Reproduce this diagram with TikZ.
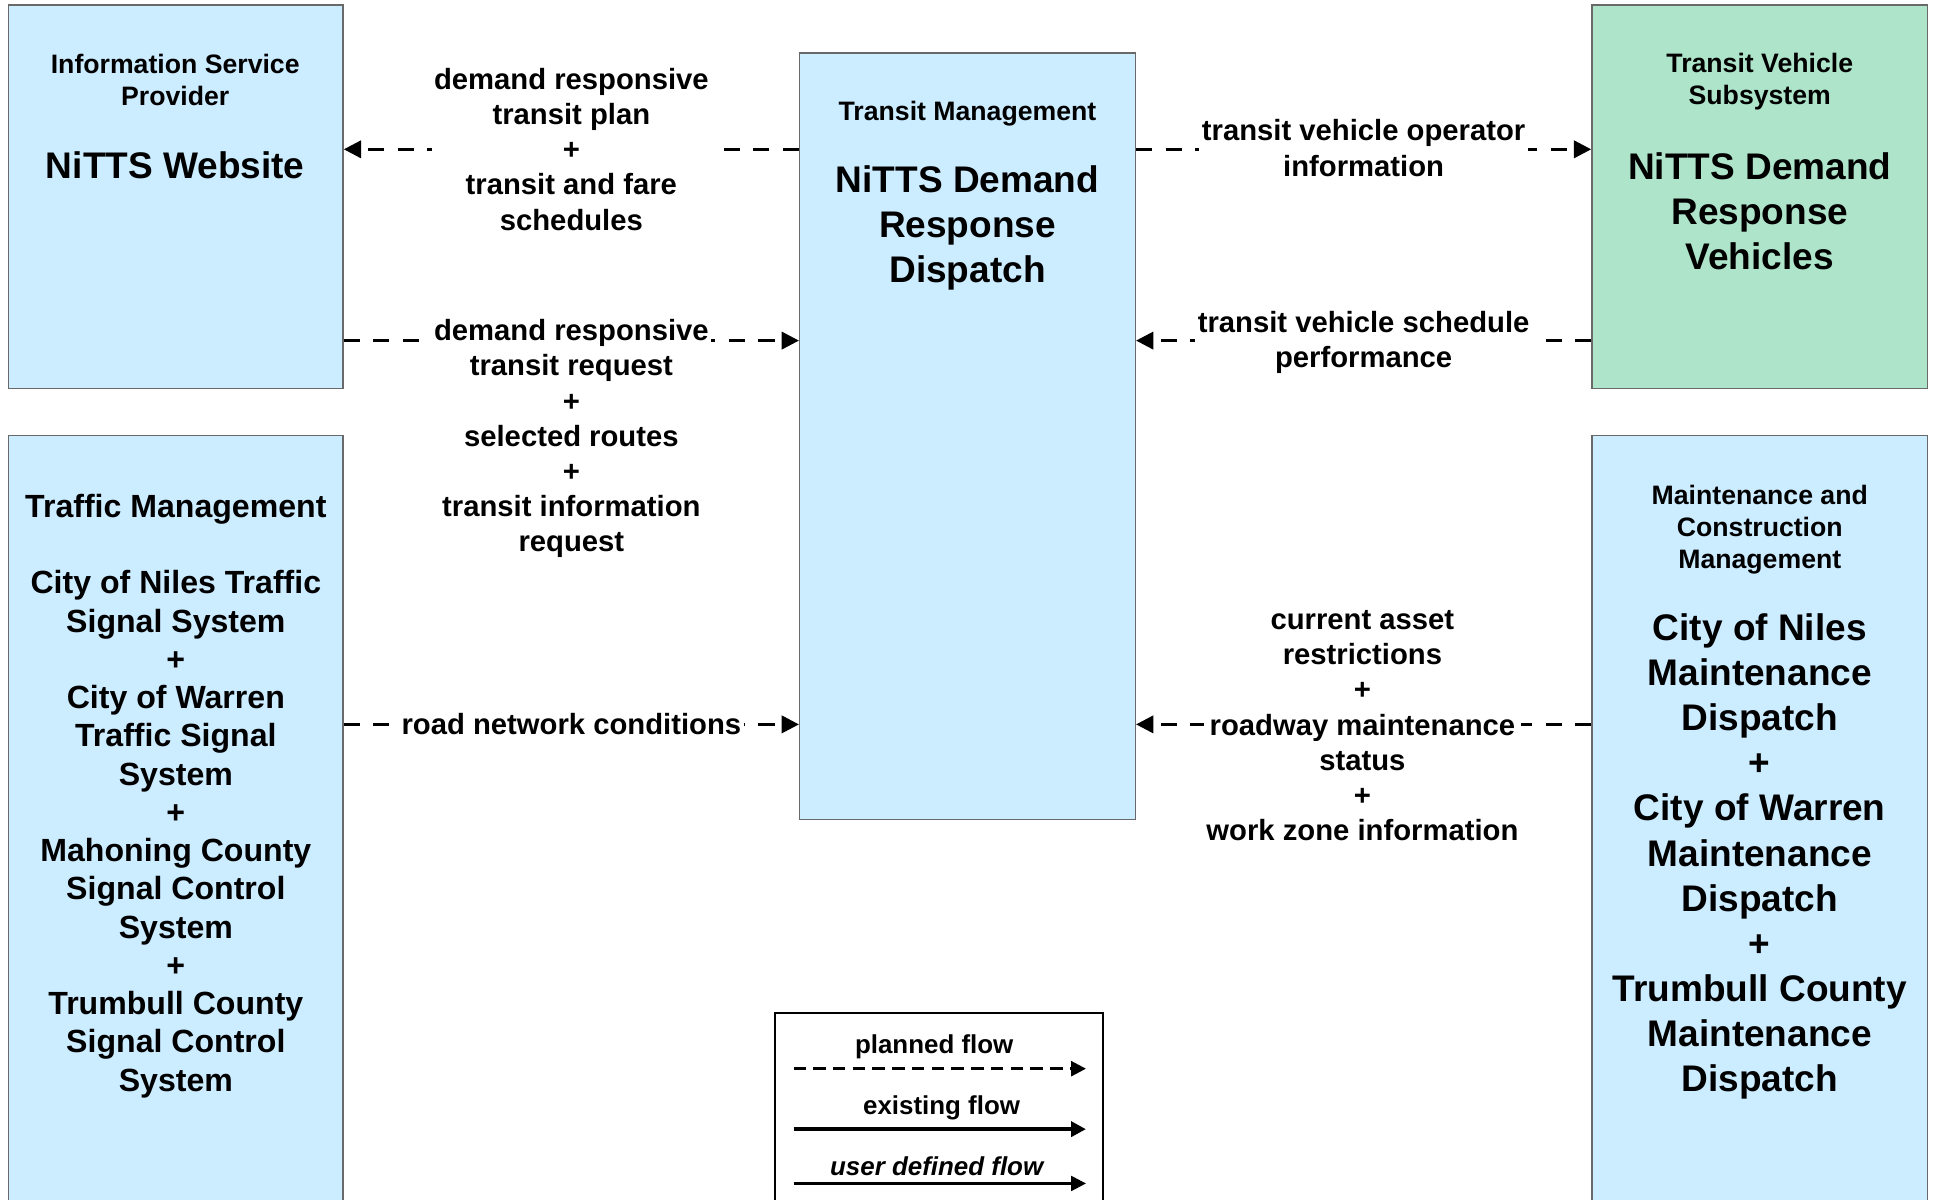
\documentclass[tikz,border=0pt]{standalone}
\usepackage{fontspec}
\setmainfont{Liberation Sans}
\usetikzlibrary{arrows.meta,fit}
\definecolor{boxblue}{RGB}{204,236,255}
\definecolor{boxgreen}{RGB}{173,228,202}
\definecolor{boxedge}{RGB}{105,105,105}
\begin{document}
\begin{tikzpicture}[x=0.5pt,y=-0.5pt,
  box/.style={draw=boxedge, line width=0.6pt, inner sep=0pt},
  bluebox/.style={box, fill=boxblue},
  greenbox/.style={box, fill=boxgreen},
  cls/.style={font=\fontsize{10.8}{13}\selectfont\bfseries, align=center, inner sep=0pt},
  bigname/.style={font=\fontsize{15}{18.25}\selectfont\bfseries, align=center, inner sep=0pt},
  tname/.style={font=\fontsize{13}{15.5}\selectfont\bfseries, align=center, inner sep=0pt},
  flowlabel/.style={font=\fontsize{11.85}{14.25}\selectfont\bfseries, align=center, fill=white, inner sep=1pt},
  flow/.style={line width=1.2pt, dash pattern=on 6.5pt off 5.5pt, -{Triangle[length=7pt,width=7pt]}},
  legtext/.style={font=\fontsize{10.5}{12.6}\selectfont\bfseries, inner sep=0pt},
  legplanned/.style={line width=1.1pt, dash pattern=on 5pt off 3pt, -{Triangle[length=6pt,width=6pt]}},
  legexisting/.style={line width=1.6pt, -{Triangle[length=6pt,width=6pt]}},
  leguser/.style={line width=1pt, -{Triangle[length=6pt,width=6pt]}}]
\useasboundingbox (0,0) rectangle (1568,972.4);
\fill[white] (0,0) rectangle (1568,972.4);
\clip (0,0) rectangle (1568,972.4);

% boxes
\node[bluebox, fit={(7,4)(278,315)}] (isp) {};
\node[bluebox, fit={(648,43)(920,664)}] (tm) {};
\node[greenbox, fit={(1290,4)(1562,315)}] (tvs) {};
\node[bluebox, fit={(7,353)(278,990)}] (traf) {};
\node[bluebox, fit={(1290,353)(1562,990)}] (maint) {};

% box texts
\node[cls] (ispc) at (142,65) {Information Service\\Provider};
\node[bigname] (ispn) at (142,134) {NiTTS Website};
\node[cls] (tmc) at (784,92) {Transit Management};
\node[bigname] (tmn) at (784,185) {NiTTS Demand\\Response\\Dispatch};
\node[cls] (tvsc) at (1426,66) {Transit Vehicle\\Subsystem};
\node[bigname] (tvsn) at (1426,171) {NiTTS Demand\\Response\\Vehicles};
\node[tname] (trafn) at (142.5,645) {Traffic Management\\[15.5pt]City of Niles Traffic\\Signal System\\+\\City of Warren\\Traffic Signal\\System\\+\\Mahoning County\\Signal Control\\System\\+\\Trumbull County\\Signal Control\\System};
\node[cls] (maintc) at (1426,429) {Maintenance and\\Construction\\Management};
\node[bigname] (maintn) at (1426,694) {City of Niles\\Maintenance\\Dispatch\\+\\City of Warren\\Maintenance\\Dispatch\\+\\Trumbull County\\Maintenance\\Dispatch};

% flow levels
\coordinate (ya) at (0,121);
\coordinate (yb) at (0,276);
\coordinate (yc) at (0,587);

% flows
\draw[flow] (tm.west |- ya) -- (isp.east |- ya);
\draw[flow] (isp.east |- yb) -- (tm.west |- yb);
\draw[flow] (tm.east |- ya) -- (tvs.west |- ya);
\draw[flow] (tvs.west |- yb) -- (tm.east |- yb);
\draw[flow] (traf.east |- yc) -- (tm.west |- yc);
\draw[flow] (maint.west |- yc) -- (tm.east |- yc);

% flow labels
\node[flowlabel] (l1) at (463,121) {demand responsive\\transit plan\\+\\transit and fare\\schedules};
\node[flowlabel] (l2) at (463,355.5) {demand responsive\\transit request\\+\\selected routes\\+\\transit information\\request};
\node[flowlabel] (l3) at (1105,120) {transit vehicle operator\\information};
\node[flowlabel] (l4) at (1105,277.5) {transit vehicle schedule\\performance};
\node[flowlabel] (l5) at (463,587) {road network conditions};
\node[flowlabel] (l6) at (1104,588) {current asset\\restrictions\\+\\roadway maintenance\\status\\+\\work zone information};

% legend
\node[draw=black, line width=1pt, fit={(628,821)(894,995)}, inner sep=0pt] (legend) {};
\node[legtext] (lt1) at (757,848) {planned flow};
\node[legtext] (lt2) at (763,898) {existing flow};
\node[legtext, font=\fontsize{10.5}{12.6}\selectfont\bfseries\itshape] (lt3) at (759,945) {user defined flow};
\coordinate (p1a) at (643,866); \coordinate (p1b) at (880,866);
\coordinate (p2a) at (643,915); \coordinate (p2b) at (880,915);
\coordinate (p3a) at (643,959); \coordinate (p3b) at (880,959);
\draw[legplanned] (p1a) -- (p1b);
\draw[legexisting] (p2a) -- (p2b);
\draw[leguser] (p3a) -- (p3b);
\end{tikzpicture}
\end{document}
